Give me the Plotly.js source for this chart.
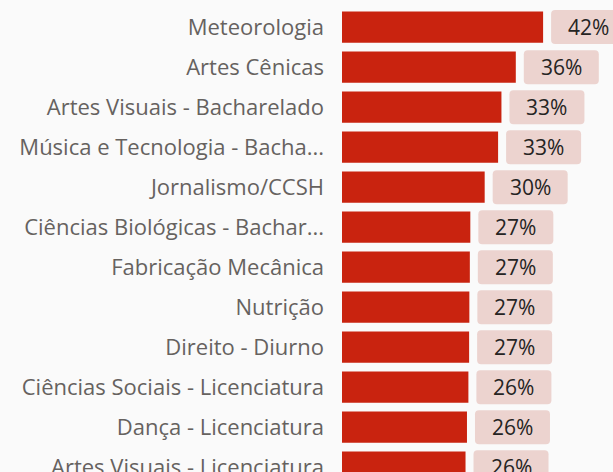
<!DOCTYPE html>
<html>
<head>
<meta charset="utf-8">
<script src="https://cdn.plot.ly/plotly-3.0.1.min.js"></script>
<style>
html,body{margin:0;padding:0;background:#fafafa;}
#chart{width:613px;height:472px;}
</style>
</head>
<body>
<div id="chart"></div>
<script>
const categories = [
  "Meteorologia",
  "Artes Cênicas",
  "Artes Visuais - Bacharelado",
  "Música e Tecnologia - Bacha...",
  "Jornalismo/CCSH",
  "Ciências Biológicas - Bachar...",
  "Fabricação Mecânica",
  "Nutrição",
  "Direito - Diurno",
  "Ciências Sociais - Licenciatura",
  "Dança - Licenciatura",
  "Artes Visuais - Licenciatura"
];
const values = [42.0, 36.3, 33.3, 32.6, 29.8, 26.8, 26.7, 26.6, 26.55, 26.4, 26.1, 25.8];

const FONT = "Open Sans, sans-serif";

const trace = {
  type: "bar",
  orientation: "h",
  x: values,
  y: categories,
  marker: { color: "#c9230f" },
  hoverinfo: "none"
};

// rounded label boxes, anchored at each bar's end (pixel-sized)
const boxPath = "M 12,-17 L 79,-17 Q 83,-17 83,-13 L 83,13 Q 83,17 79,17 L 12,17 Q 8,17 8,13 L 8,-13 Q 8,-17 12,-17 Z";
const shapes = categories.map((c, i) => ({
  type: "path",
  xref: "x",
  yref: "y",
  xsizemode: "pixel",
  ysizemode: "pixel",
  xanchor: values[i],
  yanchor: i,
  path: boxPath,
  fillcolor: "#ecd3cf",
  line: { width: 0 },
  layer: "above"
}));

const annotations = categories.map((c, i) => ({
  x: values[i],
  y: c,
  xref: "x",
  yref: "y",
  xanchor: "center",
  yanchor: "middle",
  xshift: 45.5,
  text: Math.round(values[i]) + "%",
  showarrow: false,
  font: { family: FONT, size: 21, color: "#252423" }
}));

const layout = {
  width: 613,
  height: 472,
  margin: { l: 342, r: 0, t: 0, b: 0, pad: 0 },
  paper_bgcolor: "#fafafa",
  plot_bgcolor: "#fafafa",
  bargap: 0.22,
  showlegend: false,
  xaxis: { range: [0, 56.6], visible: false, fixedrange: true },
  yaxis: {
    type: "category",
    range: [11.12, -0.678],
    showgrid: false,
    zeroline: false,
    showline: false,
    ticks: "",
    ticklabelstandoff: 17,
    tickfont: { family: FONT, size: 22, color: "#66625f" },
    fixedrange: true
  },
  shapes: shapes,
  annotations: annotations
};

Plotly.newPlot("chart", [trace], layout, { displayModeBar: false, staticPlot: true });
</script>
</body>
</html>
